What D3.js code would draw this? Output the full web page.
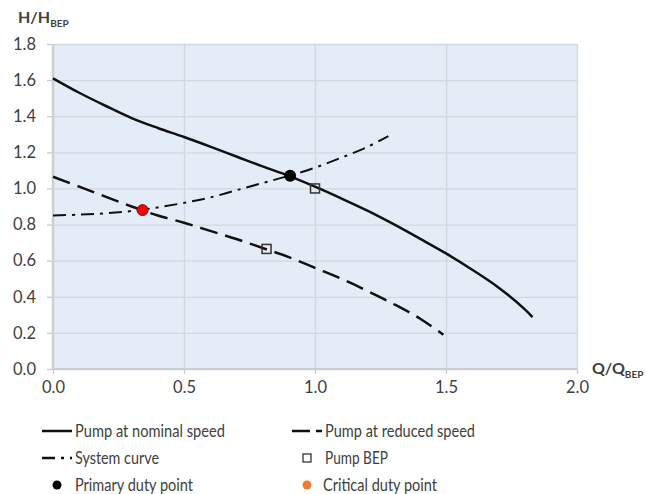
<!DOCTYPE html>
<html><head><meta charset="utf-8">
<script src="https://cdn.jsdelivr.net/npm/d3@7"></script>
<style>
html,body{margin:0;padding:0;background:#fff;}
text{font-family:"Lato",sans-serif;fill:#404040;}
</style></head>
<body><svg id="c" width="646" height="494"></svg>
<script>
// Data
const nominalQ = [0, 0.1, 0.2, 0.3, 0.4, 0.5, 0.6, 0.7, 0.8, 0.9, 1.0, 1.1, 1.2, 1.3, 1.4, 1.5, 1.6, 1.7, 1.8, 1.83];
const nominalH = [1.61, 1.53, 1.458, 1.39, 1.335, 1.285, 1.232, 1.177, 1.122, 1.07, 1.01, 0.945, 0.877, 0.802, 0.722, 0.64, 0.55, 0.452, 0.332, 0.287];
const reducedQ = [0, 0.1, 0.2, 0.3, 0.34, 0.4, 0.5, 0.6, 0.7, 0.8, 0.9, 1.0, 1.1, 1.2, 1.3, 1.4, 1.49];
const reducedH = [1.065, 1.01, 0.955, 0.90, 0.88, 0.85, 0.81, 0.765, 0.72, 0.67, 0.62, 0.56, 0.50, 0.432, 0.36, 0.28, 0.19];
const systemQ = [0, 0.1, 0.2, 0.3, 0.4, 0.5, 0.6, 0.7, 0.8, 0.9, 1.0, 1.1, 1.2, 1.28];
const systemH = [0.85, 0.855, 0.862, 0.875, 0.895, 0.92, 0.95, 0.99, 1.03, 1.07, 1.115, 1.17, 1.23, 1.29];
const bepQ = [1.0, 0.815];
const bepH = [1.0, 0.665];
const primaryQ = [0.905];
const primaryH = [1.07];
const criticalQ = [0.342];
const criticalH = [0.88];
const xTicks = [0, 0.5, 1.0, 1.5, 2.0];
const yTicks = [0, 0.2, 0.4, 0.6, 0.8, 1.0, 1.2, 1.4, 1.6, 1.8];
const legendLabels = ["Pump at nominal speed", "Pump at reduced speed", "System curve", "Pump BEP", "Primary duty point", "Critical duty point"];

const svg = d3.select("#c");
const L = 53, R = 577, T = 44, B = 369;
const x = d3.scaleLinear().domain([0, 2]).range([L, R]);
const y = d3.scaleLinear().domain([0, 1.8]).range([B, T]);

svg.append("rect").attr("x", L).attr("y", T).attr("width", R - L).attr("height", B - T).attr("fill", "#e4ecf7");

// gridlines
const gx = svg.append("g").attr("transform", `translate(0,${B})`)
  .call(d3.axisBottom(x).tickValues(xTicks).tickSize(-(B - T)).tickFormat(""));
gx.selectAll("line").attr("stroke", "#d3d8de").attr("stroke-width", 1.3);
gx.select(".domain").remove();
const gy = svg.append("g").attr("transform", `translate(${L},0)`)
  .call(d3.axisLeft(y).tickValues(yTicks).tickSize(-(R - L)).tickFormat(""));
gy.selectAll("line").attr("stroke", "#d3d8de").attr("stroke-width", 1.3);
gy.select(".domain").remove();

// axes
const ax = svg.append("g").attr("transform", `translate(0,${B})`)
  .call(d3.axisBottom(x).tickValues(xTicks).tickSize(5).tickPadding(7).tickFormat(d3.format(".1f")));
ax.selectAll("line").attr("stroke", "#c8cdd3").attr("stroke-width", 1.3);
ax.selectAll("text").attr("font-size", 16.5).attr("fill", "#404040").style("font-family", "Lato");
const ay = svg.append("g").attr("transform", `translate(${L},0)`)
  .call(d3.axisLeft(y).tickValues(yTicks).tickSize(6).tickPadding(11).tickFormat(d3.format(".1f")));
ay.selectAll("line").attr("stroke", "#c8cdd3").attr("stroke-width", 1.3);
ay.selectAll("text").attr("font-size", 16.5).attr("fill", "#404040").style("font-family", "Lato");
svg.selectAll(".domain").remove();

svg.append("line").attr("x1", L).attr("x2", L).attr("y1", T).attr("y2", B).attr("stroke", "#d0d0d0").attr("stroke-width", 2.5);
svg.append("line").attr("x1", L).attr("x2", R).attr("y1", B).attr("y2", B).attr("stroke", "#c8cdd3").attr("stroke-width", 2);

// titles
const t1 = svg.append("text").attr("x", 18).attr("y", 23).attr("font-size", 16).attr("font-weight", "bold").attr("fill", "#404040");
t1.append("tspan").text("H/H");
t1.append("tspan").attr("font-size", 10).attr("dy", 4).text("BEP");
const t2 = svg.append("text").attr("x", 592).attr("y", 374).attr("font-size", 16).attr("font-weight", "bold").attr("fill", "#404040");
t2.append("tspan").text("Q/Q");
t2.append("tspan").attr("font-size", 10).attr("dy", 4).text("BEP");

const line = d3.line().x(d => x(d[0])).y(d => y(d[1])).curve(d3.curveCatmullRom.alpha(0.5));
const zip = (a, b) => a.map((v, i) => [v, b[i]]);

svg.append("path").attr("d", line(zip(systemQ, systemH))).attr("fill", "none").attr("stroke", "#111")
  .attr("stroke-width", 2).attr("stroke-dasharray", "13,6,3,6");
svg.append("path").attr("d", line(zip(reducedQ, reducedH))).attr("fill", "none").attr("stroke", "#111")
  .attr("stroke-width", 2.5).attr("stroke-dasharray", "18,8");
svg.append("path").attr("d", line(zip(nominalQ, nominalH))).attr("fill", "none").attr("stroke", "#111")
  .attr("stroke-width", 2.5);

svg.selectAll(".bep").data(zip(bepQ, bepH)).join("rect")
  .attr("x", d => x(d[0]) - 4.5).attr("y", d => y(d[1]) - 4.5).attr("width", 9).attr("height", 9)
  .attr("fill", "none").attr("stroke", "#333").attr("stroke-width", 1.5);
svg.selectAll(".prim").data(zip(primaryQ, primaryH)).join("circle")
  .attr("cx", d => x(d[0])).attr("cy", d => y(d[1])).attr("r", 6).attr("fill", "#000");
svg.selectAll(".crit").data(zip(criticalQ, criticalH)).join("circle")
  .attr("cx", d => x(d[0])).attr("cy", d => y(d[1])).attr("r", 5.5).attr("fill", "#ff0000").attr("stroke", "#333").attr("stroke-width", 1);

// legend
const lg = svg.append("g");
const rows = [431, 458, 485];
const c1 = 42, c2 = 292;
const legendWidths = [150, 150, 84, 63, 118, 114];
function lgLine(x0, yy, dash) {
  const l = lg.append("line").attr("x1", x0).attr("x2", x0 + 30).attr("y1", yy).attr("y2", yy).attr("stroke", "#111").attr("stroke-width", 2.5);
  if (dash) l.attr("stroke-dasharray", dash);
}
function lgText(x0, yy, i) {
  lg.append("text").attr("x", x0).attr("y", yy).attr("dy", "0.36em").attr("font-size", 17).attr("fill", "#404040")
    .attr("textLength", legendWidths[i]).attr("lengthAdjust", "spacingAndGlyphs").text(legendLabels[i]);
}
lgLine(c1, rows[0], null); lgText(75, rows[0], 0);
lgLine(c2, rows[0], "18,6"); lgText(325, rows[0], 1);
lgLine(c1, rows[1], "13,6,3,6"); lgText(75, rows[1], 2);
lg.append("rect").attr("x", 303).attr("y", rows[1] - 4).attr("width", 8).attr("height", 8).attr("fill", "none").attr("stroke", "#333").attr("stroke-width", 1.3);
lgText(325, rows[1], 3);
lg.append("circle").attr("cx", 57).attr("cy", rows[2]).attr("r", 4.5).attr("fill", "#000");
lgText(75, rows[2], 4);
lg.append("circle").attr("cx", 307).attr("cy", rows[2]).attr("r", 4.5).attr("fill", "#ed7d31");
lgText(323, rows[2], 5);
</script></body></html>
